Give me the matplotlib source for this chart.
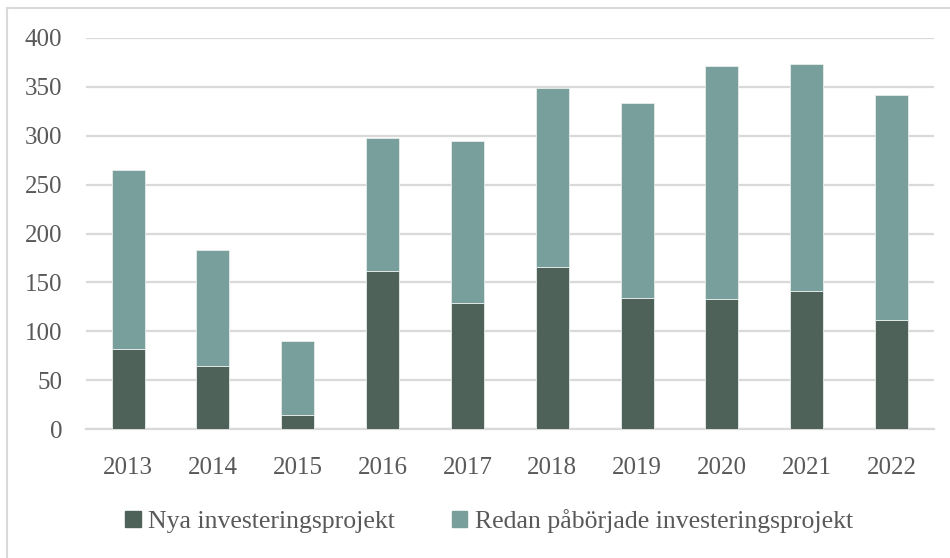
import matplotlib
matplotlib.use("Agg")
import matplotlib.pyplot as plt
from matplotlib.patches import Patch
from matplotlib.lines import Line2D
import numpy as np

years = ["2013", "2014", "2015", "2016", "2017", "2018", "2019", "2020", "2021", "2022"]
nya = [82, 65, 15, 162, 129, 166, 134, 133, 141, 112]
redan = [183, 118, 75, 136, 166, 183, 199, 238, 232, 229]
yticks = [0, 50, 100, 150, 200, 250, 300, 350, 400]
labels = ["Nya investeringsprojekt", "Redan påbörjade investeringsprojekt"]

dark = "#4F6259"
light = "#799F9C"
grid = "#D9D9D9"
txt = "#595959"

plt.rcParams['font.family'] = ['Liberation Serif', 'DejaVu Serif']

fig = plt.figure(figsize=(9.5, 5.58), dpi=100)
ax = fig.add_axes([0.0902, 0.2306, 0.8930, 0.7018])

x = np.arange(len(years))
w = 0.39
ax.bar(x, nya, w, color=dark, edgecolor="#E8EEEC", linewidth=0.6, zorder=3)
ax.bar(x, redan, w, bottom=nya, color=light, edgecolor="#E8EEEC", linewidth=0.6, zorder=3)

ax.set_xlim(-0.5, len(years) - 0.5)
ax.set_ylim(0, 400)
ax.set_yticks(yticks)
ax.set_xticks(x)
ax.set_xticklabels(years)
ax.yaxis.grid(True, color=grid, linewidth=1.6, zorder=0)
ax.set_axisbelow(True)
for s in ["top", "right", "left"]:
    ax.spines[s].set_visible(False)
ax.spines["bottom"].set_color(grid)
ax.spines["bottom"].set_linewidth(1.6)
ax.tick_params(axis="both", length=0, labelsize=18, colors=txt)
ax.tick_params(axis="y", pad=17)
ax.tick_params(axis="x", pad=20)

handles = [Patch(facecolor=dark, edgecolor=dark), Patch(facecolor=light, edgecolor=light)]
leg = fig.legend(handles, labels, loc="center", bbox_to_anchor=(0.515, 0.0668), ncol=2,
                 frameon=False, fontsize=18.5, handlelength=0.6, handleheight=0.6,
                 handletextpad=0.3, columnspacing=2.2, labelcolor=txt)

# outer chart border
fig.add_artist(Line2D([7/950, 7/950], [0, 1 - 8/558], transform=fig.transFigure, color=grid, linewidth=1.5))
fig.add_artist(Line2D([7/950, 1], [1 - 8/558, 1 - 8/558], transform=fig.transFigure, color=grid, linewidth=1.5))

fig.savefig("out.png", dpi=100, facecolor="white")
